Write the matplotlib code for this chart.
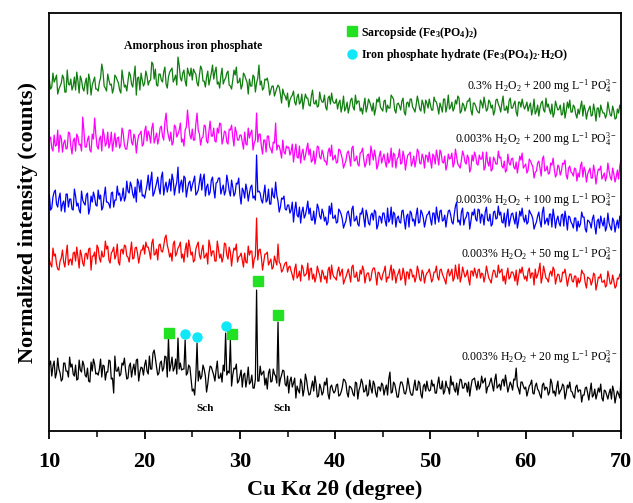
import numpy as np
import matplotlib
matplotlib.use("Agg")
import matplotlib.pyplot as plt
from matplotlib.lines import Line2D

plt.rcParams['font.family'] = ['Liberation Serif', 'DejaVu Serif']
plt.rcParams['mathtext.fontset'] = 'custom'
plt.rcParams['mathtext.rm'] = 'Liberation Serif'
plt.rcParams['mathtext.it'] = 'Liberation Serif:italic'
plt.rcParams['mathtext.bf'] = 'Liberation Serif:bold'

# 2theta grid (degrees): readings every 0.125 deg
two_theta = np.linspace(10, 70, 481)

# Normalized intensities: values at 10.0, 10.25, ... (main)
# and at 10.125, 10.375, ... (mid)
black_20_main = [
    66, 55, 70, 58, 62, 50, 68, 60, 54, 64,
    57, 66, 52, 61, 70, 56, 63, 49, 60, 67,
    58, 62, 54, 65, 59, 71, 52, 38, 60, 64,
    57, 66, 61, 53, 68, 62, 56, 72, 59, 63,
    66, 60, 75, 62, 81, 64, 58, 70, 63, 74,
    93, 66, 60, 72, 93, 68, 62, 91, 58, 64,
    40, 36, 88, 60, 55, 62, 39, 58, 64, 56,
    61, 53, 58, 66, 98, 60, 91, 56, 62, 48,
    55, 44, 58, 52, 47, 56, 43, 141, 50, 56,
    60, 53, 58, 49, 62, 55, 109, 52, 61, 47,
    55, 50, 44, 53, 45, 38, 48, 42, 51, 36,
    44, 40, 47, 35, 43, 39, 46, 37, 44, 41,
    40, 47, 36, 44, 51, 38, 45, 42, 35, 48, 41, 52, 39, 46, 37, 43, 50, 38, 44, 40,
    46, 42, 36, 59, 39, 47, 34, 43, 49, 38, 42, 46, 36, 44, 41, 50, 37, 45, 40, 43,
    41, 45, 38, 47, 43, 50, 40, 44, 37, 46, 42, 48, 45, 51, 43, 47, 49, 44, 52, 46,
    50, 45, 48, 53, 44, 49, 46, 51, 43, 47, 50, 45, 48, 44, 46, 52, 63, 42, 49, 45,
    44, 40, 47, 38, 45, 42, 36, 46, 41, 43, 39, 48, 40, 44, 37, 42, 45, 38, 43, 40,
    35, 44, 39, 41, 36, 43, 38, 40, 34, 42, 37, 39, 33, 41, 36, 38, 32, 40, 35, 37, 51,
]
black_20_mid = [
    70, 65, 53, 73, 58, 52, 68, 60, 74, 67, 55, 51, 71, 59, 66, 54, 50, 69, 72, 57,
    56, 72, 66, 51, 59, 70, 53, 75, 60, 55, 68, 73, 52, 65, 54, 67, 71, 50, 64, 56,
    71, 57, 62, 78, 73, 56, 68, 60, 75, 54, 60, 74, 63, 57, 62, 61, 62, 56, 66, 52,
    42, 55, 50, 52, 66, 55, 47, 65, 60, 50, 70, 53, 49, 60, 56, 58, 45, 63, 67, 50,
    61, 56, 44, 64, 49, 43, 52, 50, 65, 58, 46, 42, 62, 50, 57, 48, 45, 56, 60, 45,
    38, 54, 48, 33, 41, 52, 35, 57, 42, 37, 50, 55, 34, 47, 36, 49, 53, 32, 46, 38,
    46, 35, 39, 52, 48, 34, 44, 37, 49, 32, 45, 48, 40, 35, 51, 38, 47, 34, 44, 48,
    36, 46, 52, 38, 49, 41, 34, 49, 45, 37, 53, 39, 36, 51, 41, 48, 33, 47, 50, 40,
    51, 47, 38, 54, 42, 37, 50, 43, 55, 49, 39, 36, 52, 43, 48, 39, 35, 51, 53, 41,
    42, 55, 50, 38, 45, 53, 40, 57, 45, 41, 52, 56, 39, 49, 41, 51, 45, 37, 49, 42,
    35, 45, 51, 37, 48, 40, 33, 48, 44, 36, 52, 38, 35, 50, 40, 47, 32, 46, 49, 39,
    33, 46, 41, 29, 36, 44, 31, 48, 36, 32, 43, 47, 30, 40, 32, 42, 45, 28, 40, 33,
]

red_50_main = [
    40, 33, 44, 36, 30, 42, 38, 45, 35, 41, 47, 39, 43, 50, 37, 46, 41, 52, 44, 48,
    55, 42, 49, 44, 51, 40, 47, 53, 45, 38, 50, 46, 54, 43, 48, 41, 52, 47, 44, 50,
    46, 53, 48, 57, 45, 51, 55, 49, 54, 65, 50, 47, 56, 44, 52, 58, 46, 50, 43, 53,
    48, 40, 55, 45, 50, 42, 47, 60, 44, 49, 39, 51, 46, 43, 56, 41, 48, 45, 50, 38,
    44, 40, 47, 37, 45, 49, 41, 82, 50, 43, 38, 46, 35, 41, 33, 39, 56, 36, 30, 37,
    28, 34, 25, 31, 22, 29, 35, 24, 27, 20, 32, 26, 23, 29, 18, 27, 24, 30, 21, 26,
    22, 29, 24, 31, 20, 27, 25, 33, 23, 28, 19, 26, 30, 24, 27, 21, 32, 25, 28, 22,
    26, 34, 23, 29, 20, 27, 24, 31, 22, 26, 28, 21, 30, 25, 23, 29, 19, 27, 24, 28,
    25, 21, 28, 23, 30, 26, 20, 27, 24, 31, 22, 26, 36, 23, 28, 25, 21, 29, 24, 27,
    30, 22, 26, 24, 28, 20, 25, 29, 23, 27, 31, 24, 26, 21, 28, 25, 30, 23, 27, 26,
    24, 29, 22, 27, 31, 25, 37, 23, 28, 21, 26, 24, 30, 22, 25, 19, 27, 23, 21, 26,
    18, 24, 22, 20, 27, 17, 23, 21, 19, 25, 16, 22, 18, 20, 15, 23, 17, 19, 14, 21, 26,
]
red_50_mid = [
    36, 52, 46, 31, 39, 50, 33, 55, 40, 35, 48, 53, 32, 45, 34, 47, 51, 30, 44, 36,
    52, 38, 43, 59, 54, 37, 49, 41, 56, 35, 51, 55, 44, 38, 58, 42, 53, 37, 50, 55,
    58, 53, 41, 61, 46, 40, 56, 48, 62, 55, 43, 39, 59, 47, 54, 42, 38, 57, 60, 45,
    38, 51, 58, 41, 55, 44, 36, 54, 49, 39, 59, 42, 38, 57, 45, 53, 34, 52, 56, 43,
    47, 33, 38, 54, 49, 32, 44, 40, 51, 30, 46, 48, 38, 31, 44, 35, 38, 28, 34, 38,
    33, 29, 20, 36, 24, 19, 32, 25, 37, 31, 21, 18, 34, 25, 30, 21, 17, 33, 35, 23,
    20, 33, 28, 16, 23, 31, 18, 35, 23, 19, 30, 34, 17, 27, 19, 29, 32, 15, 27, 20,
    29, 18, 22, 35, 31, 17, 27, 20, 32, 15, 28, 31, 23, 18, 34, 21, 30, 17, 27, 31,
    18, 28, 34, 20, 31, 23, 16, 31, 27, 19, 35, 21, 18, 33, 23, 30, 15, 29, 32, 22,
    31, 27, 18, 34, 22, 17, 30, 23, 35, 29, 19, 16, 32, 23, 28, 19, 15, 31, 33, 21,
    19, 32, 27, 15, 22, 30, 17, 34, 22, 18, 29, 33, 16, 26, 18, 28, 31, 14, 26, 19,
    24, 13, 17, 30, 26, 12, 22, 15, 27, 10, 23, 26, 18, 13, 29, 16, 25, 12, 22, 26,
]

blue_100_main = [
    45, 32, 48, 36, 42, 29, 39, 46, 33, 41, 30, 44, 37, 27, 40, 35, 47, 31, 38, 43,
    34, 41, 30, 44, 38, 36, 47, 33, 40, 45, 39, 52, 43, 49, 58, 46, 53, 61, 48, 44,
    42, 55, 50, 68, 47, 57, 52, 63, 45, 58, 54, 49, 60, 53, 73, 56, 48, 62, 51, 59,
    55, 64, 47, 58, 50, 66, 53, 45, 60, 51, 57, 62, 46, 55, 49, 58, 44, 53, 47, 56,
    45, 52, 42, 50, 47, 55, 44, 85, 49, 40, 46, 38, 51, 36, 44, 58, 39, 33, 41, 31,
    35, 27, 38, 30, 25, 33, 28, 22, 31, 26, 20, 29, 24, 32, 21, 27, 23, 18, 26, 22,
    25, 18, 29, 21, 16, 27, 23, 31, 19, 24, 14, 26, 22, 30, 17, 25, 20, 28, 15, 23,
    27, 19, 32, 21, 16, 26, 22, 18, 29, 20, 24, 13, 27, 21, 25, 17, 30, 22, 19, 26,
    21, 27, 16, 24, 29, 19, 25, 22, 30, 18, 26, 38, 20, 28, 15, 23, 27, 19, 25, 21,
    31, 17, 24, 28, 20, 26, 16, 29, 22, 25, 18, 27, 23, 14, 26, 21, 28, 19, 24, 22,
    25, 18, 27, 21, 15, 24, 19, 28, 16, 22, 26, 13, 23, 20, 17, 25, 14, 21, 24, 18,
    12, 22, 19, 16, 23, 11, 20, 17, 21, 14, 19, 12, 18, 22, 13, 17, 10, 19, 15, 12, 20,
]
blue_100_mid = [
    30, 43, 50, 33, 47, 36, 28, 46, 41, 31, 51, 34, 30, 49, 37, 45, 26, 44, 48, 35,
    50, 45, 33, 53, 38, 32, 48, 40, 54, 47, 43, 39, 59, 47, 54, 42, 38, 57, 60, 45,
    49, 65, 59, 44, 52, 63, 46, 68, 53, 48, 61, 66, 45, 58, 47, 60, 64, 43, 57, 49,
    59, 45, 50, 66, 61, 44, 56, 48, 63, 42, 58, 62, 51, 45, 65, 49, 60, 44, 57, 62,
    36, 49, 56, 39, 53, 42, 40, 48, 47, 37, 55, 40, 36, 52, 42, 45, 28, 42, 44, 30,
    35, 30, 18, 38, 23, 17, 33, 25, 39, 32, 20, 16, 36, 24, 31, 19, 15, 34, 37, 22,
    17, 31, 26, 12, 19, 29, 14, 34, 20, 16, 27, 32, 13, 25, 15, 27, 30, 11, 24, 17,
    27, 14, 18, 33, 28, 13, 24, 17, 30, 11, 26, 29, 19, 14, 32, 18, 27, 13, 25, 29,
    15, 27, 33, 18, 30, 20, 13, 29, 25, 16, 34, 18, 15, 32, 21, 28, 11, 28, 31, 19,
    30, 26, 15, 33, 19, 14, 28, 21, 34, 28, 17, 13, 31, 20, 27, 16, 12, 29, 32, 18,
    16, 30, 25, 11, 18, 28, 13, 33, 19, 15, 26, 31, 12, 24, 14, 26, 29, 10, 23, 16,
    22, 9, 13, 28, 23, 8, 19, 12, 25, 6, 21, 24, 14, 9, 27, 13, 22, 8, 20, 24,
]

magenta_200_main = [
    50, 42, 55, 45, 38, 52, 47, 41, 58, 44, 49, 39, 53, 46, 73, 43, 50, 40, 56, 72,
    44, 51, 39, 55, 47, 42, 58, 48, 43, 53, 46, 57, 41, 50, 60, 45, 52, 48, 56, 44,
    59, 49, 55, 62, 47, 57, 52, 64, 50, 77, 54, 58, 48, 63, 56, 67, 51, 60, 80, 55,
    61, 50, 77, 56, 52, 65, 49, 59, 54, 62, 48, 57, 66, 51, 58, 46, 60, 53, 63, 50,
    55, 48, 58, 45, 52, 60, 47, 77, 56, 44, 50, 38, 54, 41, 48, 67, 45, 39, 50, 36,
    42, 35, 46, 38, 33, 44, 37, 30, 41, 35, 28, 39, 33, 43, 31, 36, 29, 38, 34, 30,
    35, 28, 40, 31, 26, 37, 33, 42, 29, 34, 24, 38, 31, 27, 36, 44, 30, 33, 25, 39,
    32, 28, 37, 30, 23, 35, 31, 41, 27, 33, 29, 36, 24, 34, 30, 38, 26, 32, 35, 28,
    30, 36, 26, 33, 40, 28, 34, 25, 31, 37, 27, 33, 24, 30, 35, 26, 32, 22, 29, 34,
    25, 31, 38, 23, 28, 33, 21, 30, 26, 32, 24, 29, 20, 27, 31, 23, 28, 25, 30, 22,
    26, 20, 29, 23, 18, 27, 22, 31, 19, 24, 17, 25, 21, 16, 23, 19, 26, 15, 22, 18,
    14, 21, 17, 24, 13, 19, 16, 22, 12, 18, 15, 20, 11, 17, 14, 19, 10, 16, 13, 11, 30,
]
magenta_200_mid = [
    53, 39, 44, 60, 55, 38, 50, 42, 57, 36, 52, 56, 45, 39, 59, 43, 54, 38, 51, 56,
    41, 54, 61, 44, 58, 47, 39, 57, 52, 42, 62, 45, 41, 60, 48, 56, 37, 55, 59, 46,
    64, 59, 47, 67, 52, 46, 62, 54, 68, 61, 49, 45, 65, 53, 60, 48, 44, 63, 66, 51,
    50, 66, 60, 45, 53, 64, 47, 69, 54, 49, 62, 67, 46, 59, 48, 61, 65, 44, 58, 50,
    55, 41, 46, 62, 57, 40, 50, 48, 56, 36, 50, 54, 43, 37, 47, 40, 44, 32, 38, 44,
    43, 39, 28, 46, 32, 27, 41, 34, 47, 41, 30, 26, 44, 33, 40, 29, 25, 42, 45, 32,
    27, 41, 36, 22, 29, 39, 24, 44, 30, 26, 37, 42, 23, 35, 25, 37, 40, 21, 34, 27,
    36, 23, 27, 42, 37, 22, 33, 26, 39, 20, 35, 38, 28, 23, 41, 27, 36, 22, 34, 38,
    22, 34, 40, 25, 37, 27, 20, 36, 32, 23, 41, 26, 22, 39, 28, 35, 18, 35, 38, 26,
    35, 31, 20, 38, 24, 19, 33, 26, 39, 33, 22, 18, 36, 25, 32, 21, 17, 34, 37, 24,
    17, 31, 26, 12, 19, 29, 14, 34, 20, 16, 27, 32, 13, 25, 15, 27, 30, 11, 24, 17,
    22, 9, 13, 28, 23, 8, 19, 12, 25, 6, 21, 24, 14, 9, 27, 13, 22, 8, 20, 24,
]

green_03_main = [
    50, 43, 48, 55, 41, 47, 52, 38, 46, 51, 44, 40, 49, 54, 42, 47, 36, 50, 45, 53,
    41, 48, 66, 44, 39, 50, 46, 42, 53, 47, 37, 51, 45, 49, 55, 43, 64, 52, 40, 50,
    47, 54, 49, 68, 51, 45, 56, 50, 58, 46, 53, 60, 48, 55, 73, 52, 57, 49, 62, 54,
    50, 58, 47, 55, 61, 49, 53, 45, 57, 51, 63, 48, 54, 46, 52, 59, 44, 50, 55, 47,
    52, 45, 55, 48, 51, 44, 53, 47, 65, 49, 42, 50, 46, 40, 44, 38, 45, 36, 41, 34,
    37, 30, 35, 28, 33, 26, 36, 29, 32, 25, 34, 27, 30, 24, 31, 28, 23, 32, 26, 29,
    27, 21, 30, 24, 19, 28, 23, 32, 20, 26, 29, 22, 25, 18, 31, 24, 27, 21, 28, 23,
    19, 30, 25, 22, 33, 20, 26, 24, 29, 18, 27, 23, 31, 21, 25, 28, 19, 26, 30, 22,
    25, 20, 29, 23, 27, 18, 31, 24, 21, 28, 22, 26, 32, 19, 25, 23, 29, 20, 27, 24,
    18, 30, 22, 26, 21, 28, 25, 19, 31, 23, 27, 20, 24, 29, 22, 26, 18, 28, 23, 25,
    24, 19, 27, 21, 16, 25, 22, 29, 18, 23, 20, 26, 17, 24, 21, 15, 27, 19, 22, 18,
    25, 16, 21, 23, 14, 20, 18, 24, 15, 19, 22, 13, 20, 17, 16, 21, 14, 19, 12, 17, 22,
]
green_03_mid = [
    41, 57, 51, 36, 44, 55, 38, 60, 45, 40, 53, 58, 37, 50, 39, 52, 56, 35, 49, 41,
    39, 52, 59, 42, 56, 45, 37, 55, 50, 40, 60, 43, 39, 58, 46, 54, 35, 53, 57, 44,
    59, 45, 50, 66, 61, 44, 56, 48, 63, 42, 58, 62, 51, 45, 65, 49, 60, 44, 57, 62,
    61, 56, 44, 64, 49, 43, 59, 51, 65, 58, 46, 42, 62, 50, 57, 45, 41, 60, 63, 48,
    41, 57, 51, 36, 44, 55, 38, 52, 45, 40, 51, 52, 35, 44, 34, 42, 43, 27, 36, 30,
    23, 33, 39, 25, 36, 28, 21, 36, 32, 24, 40, 26, 23, 38, 28, 35, 20, 34, 37, 27,
    31, 27, 18, 34, 22, 17, 30, 23, 35, 29, 19, 16, 32, 23, 28, 19, 15, 31, 33, 21,
    29, 18, 22, 35, 31, 17, 27, 20, 32, 15, 28, 31, 23, 18, 34, 21, 30, 17, 27, 31,
    20, 33, 28, 16, 23, 31, 18, 35, 23, 19, 30, 34, 17, 27, 19, 29, 32, 15, 27, 20,
    17, 27, 33, 19, 30, 22, 15, 30, 26, 18, 34, 20, 17, 32, 22, 29, 14, 28, 31, 21,
    28, 24, 15, 31, 19, 14, 27, 20, 32, 26, 16, 13, 29, 20, 25, 16, 12, 28, 30, 18,
    23, 12, 16, 29, 25, 11, 21, 14, 26, 9, 22, 25, 17, 12, 28, 15, 24, 11, 21, 25,
]


def combine(main, mid):
    out = np.empty(len(main) + len(mid))
    out[0::2] = main
    out[1::2] = mid
    return out


series = [combine(black_20_main, black_20_mid),
          combine(red_50_main, red_50_mid),
          combine(blue_100_main, blue_100_mid),
          combine(magenta_200_main, magenta_200_mid),
          combine(green_03_main, green_03_mid)]
offsets = [0, 131, 191, 241, 301]
colors = ['#000000', '#ff0000', '#0000ff', '#ff00ff', '#0f7d0f']
labels = [
    r'0.003% H$_2$O$_2$ + 20 mg L$^{-1}$ PO$_4^{3-}$',
    r'0.003% H$_2$O$_2$ + 50 mg L$^{-1}$ PO$_4^{3-}$',
    r'0.003% H$_2$O$_2$ + 100 mg L$^{-1}$ PO$_4^{3-}$',
    r'0.003% H$_2$O$_2$ + 200 mg L$^{-1}$ PO$_4^{3-}$',
    r'0.3% H$_2$O$_2$ + 200 mg L$^{-1}$ PO$_4^{3-}$',
]
label_y = [74, 177, 231, 292, 345]

# Phase markers on the bottom pattern
sarcopside_x = [22.54, 29.15, 31.88, 33.98]
sarcopside_y = [98, 97, 150, 116]
hydrate_x = [24.22, 25.48, 28.52]
hydrate_y = [97, 94, 105]
sch_x = [26.3, 34.4]

fig = plt.figure(figsize=(6.33, 5.03), dpi=100)
ax = fig.add_axes([0.078, 0.143, 0.903, 0.831])

for vals, off, c in zip(series, offsets, colors):
    ax.plot(two_theta, vals + off, color=c, lw=0.9)

for lab, ly in zip(labels, label_y):
    ax.text(69.6, ly, lab, ha='right', va='center', fontsize=8.5)

ax.plot(sarcopside_x, sarcopside_y, 's', color='#22e022', ms=6.5, ls='none')
ax.plot(hydrate_x, hydrate_y, 'o', color='#10e8f8', ms=6.5, ls='none')
for sx in sch_x:
    ax.text(sx, 23, 'Sch', ha='center', va='center', fontsize=8, fontweight='bold')

ax.text(25.1, 385, 'Amorphous iron phosphate', ha='center', va='center',
        fontsize=8.5, fontweight='bold')

handles = [
    Line2D([], [], marker='s', color='#22e022', ls='none', ms=6.5),
    Line2D([], [], marker='o', color='#10e8f8', ls='none', ms=6.5),
]
leg = ax.legend(handles,
                [r'Sarcopside (Fe$_\mathbf{3}$(PO$_\mathbf{4}$)$_\mathbf{2}$)',
                 r'Iron phosphate hydrate (Fe$_\mathbf{3}$(PO$_\mathbf{4}$)$_\mathbf{2}$$\cdot$H$_\mathbf{2}$O)'],
                loc='upper left', bbox_to_anchor=(0.50, 0.998), frameon=False,
                handletextpad=0.3, handlelength=1.0, labelspacing=0.55,
                prop={'family': 'Liberation Serif', 'weight': 'bold', 'size': 8.5})

ax.set_xlim(10, 70)
ax.set_ylim(0, 418)
ax.set_xticks([10, 20, 30, 40, 50, 60, 70])
ax.set_xticks([15, 25, 35, 45, 55, 65], minor=True)
ax.set_yticks([])
ax.tick_params(axis='x', which='major', direction='out', length=6, width=1.3,
               labelsize=16, pad=9)
ax.tick_params(axis='x', which='minor', direction='out', length=4, width=1.1)
for lbl in ax.get_xticklabels():
    lbl.set_fontweight('bold')
for sp in ax.spines.values():
    sp.set_linewidth(1.3)

ax.set_xlabel('Cu K\u03b1 2\u03b8 (degree)', fontsize=16, fontweight='bold', labelpad=6)
ax.set_ylabel('Normalized intensity (counts)', fontsize=16, fontweight='bold', labelpad=8)

fig.savefig('out.png', dpi=100)
